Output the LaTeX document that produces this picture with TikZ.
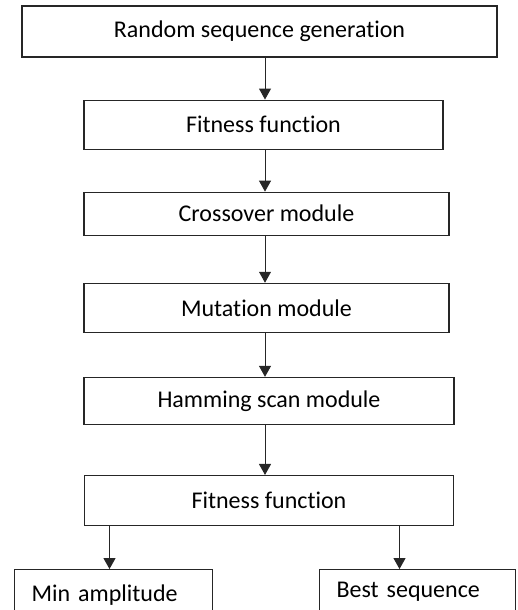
\documentclass[tikz,border=0pt]{standalone}
\usepackage{fontspec}
\setmainfont{Carlito}[Ligatures=NoCommon]
\usetikzlibrary{arrows.meta,positioning}
\definecolor{edge}{HTML}{262626}

\begin{document}
\begin{tikzpicture}[
      x=1pt,y=1pt,
      font=\fontsize{24}{28}\selectfont,
      box/.style={draw=edge,line width=1.1pt,inner sep=0pt,minimum height=49pt},
      outbox/.style={box,inner xsep=17pt,align=left,minimum height=44pt},
      arr/.style={-{Triangle[length=11pt,width=12pt]},line width=0.9pt,edge}]

    \useasboundingbox (0,0) rectangle (517,-610);

    \node[box,minimum width=475pt,minimum height=51pt] (rsg) at (259.5,-31.5) {Random sequence generation};
    \node[box,minimum width=359pt,below=42pt of rsg,xshift=4pt] (ff1) {Fitness function};
    \node[box,minimum width=365pt,minimum height=43pt,below=42pt of ff1,xshift=3pt] (co) {Crossover module};
    \node[box,minimum width=365pt,below=47pt of co] (mu) {Mutation module};
    \node[box,minimum width=370pt,minimum height=47pt,below=44pt of mu,xshift=2.5pt] (hs) {Hamming scan module};
    \node[box,minimum width=369pt,minimum height=50pt,below=50pt of hs] (ff2) {Fitness function};

    \node[outbox,text width=164pt,minimum height=50pt,below=43pt of ff2.south west,anchor=north west,xshift=-70pt] (mina) {Min amplitude};
    \node[outbox,text width=162pt,below=43pt of ff2.south east,anchor=north east,xshift=62pt] (best) {Best sequence};

    % main chain
    \coordinate (axis) at ([xshift=5.5pt]rsg.south);
    \foreach \a/\b in {rsg/ff1,ff1/co,co/mu,mu/hs,hs/ff2}
      \draw[arr] (\a.south -| axis) -- (\b.north -| axis);

    % outputs
    \draw[arr] ([xshift=-4pt]mina.north |- ff2.south) -- ([xshift=-4pt]mina.north);
    \draw[arr] ([xshift=-18pt]best.north |- ff2.south) -- ([xshift=-18pt]best.north);
  \end{tikzpicture}
\end{document}
